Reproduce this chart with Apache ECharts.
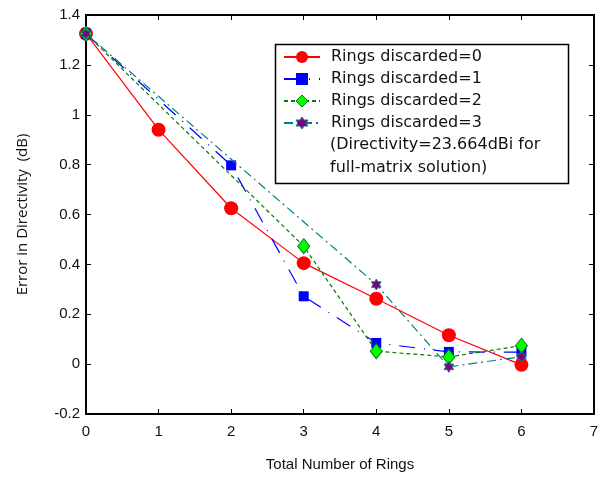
<!DOCTYPE html>
<html><head><meta charset="utf-8">
<script src="https://cdn.jsdelivr.net/npm/echarts@6/dist/echarts.min.js"></script>
<style>html,body{margin:0;padding:0;background:#fff}#c{width:613px;height:477px}</style>
</head><body><div id="c"></div>
<script>
const xRings = [0, 1, 2, 3, 4, 5, 6];
const seriesNames = ['Rings discarded=0', 'Rings discarded=1', 'Rings discarded=2', 'Rings discarded=3'];
const disc0 = [[0, 1.325], [1, 0.94], [2, 0.625], [3, 0.405], [4, 0.262], [5, 0.116], [6, -0.003]];
const disc1 = [[0, 1.325], [2, 0.797], [3, 0.272], [4, 0.085], [5, 0.049], [6, 0.048]];
const disc2 = [[0, 1.325], [3, 0.473], [4, 0.052], [5, 0.029], [6, 0.074]];
const disc3 = [[0, 1.325], [4, 0.319], [5, -0.011], [6, 0.03]];
const noteText = '(Directivity=23.664dBi for\nfull-matrix solution)';
const yMin = -0.2, yMax = 1.4, yStep = 0.2;
const xMin = 0, xMax = 7, xStep = 1;

const star = 'path://M0,-10 L2.887,-5 L8.66,-5 L5.77,0 L8.66,5 L2.887,5 L0,10 L-2.887,5 L-8.66,5 L-5.77,0 L-8.66,-5 L-2.887,-5 Z';
const styles = [
  {symbol: 'circle', size: 14, line: {color: '#ff0000', width: 1.2, type: 'solid'}, item: {color: '#ff0000', borderColor: '#ff0000', borderWidth: 0}},
  {symbol: 'rect', size: 10, line: {color: '#0000ff', width: 1.2, type: [16, 9, 1, 9]}, item: {color: '#0000ff', borderColor: '#0000ff', borderWidth: 0}},
  {symbol: 'diamond', size: [12, 15], line: {color: '#008000', width: 1.2, type: [4, 3]}, item: {color: '#00ff00', borderColor: '#008000', borderWidth: 1}},
  {symbol: star, size: 11, line: {color: '#008080', width: 1.2, type: [9, 4, 2, 4]}, item: {color: '#800080', borderColor: '#008080', borderWidth: 1}}
];
const allData = [disc0, disc1, disc2, disc3];
const chart = echarts.init(document.getElementById('c'));
const axisFont = {fontFamily: 'Liberation Sans', fontSize: 15, color: '#111'};
const axisBase = {
  axisLine: {show: true, onZero: false, lineStyle: {color: '#000', width: 2}},
  axisTick: {show: true, inside: true, length: 5, lineStyle: {color: '#000', width: 1}},
  splitLine: {show: false}
};
chart.setOption({
  animation: false,
  grid: {left: 86, right: 19, top: 15, bottom: 62},
  xAxis: [
    Object.assign({type: 'value', min: xMin, max: xMax, interval: xStep, position: 'bottom',
      axisLabel: Object.assign({margin: 10}, axisFont),
      name: 'Total Number of Rings', nameLocation: 'middle', nameGap: 43,
      nameTextStyle: {fontFamily: 'Liberation Sans', fontSize: 15, color: '#111'}}, axisBase),
    Object.assign({type: 'value', min: xMin, max: xMax, interval: xStep, position: 'top',
      axisLabel: {show: false}}, axisBase)
  ],
  yAxis: [
    Object.assign({type: 'value', min: yMin, max: yMax, interval: yStep, position: 'left',
      axisLabel: Object.assign({margin: 6}, axisFont),
      name: 'Error in Directivity  (dB)', nameLocation: 'middle', nameGap: 56,
      nameTextStyle: {fontFamily: 'Open Sans', fontSize: 15, color: '#111'}}, axisBase),
    Object.assign({type: 'value', min: yMin, max: yMax, interval: yStep, position: 'right',
      axisLabel: {show: false}}, axisBase)
  ],
  legend: {
    orient: 'vertical', left: 283, top: 49, padding: 0, itemGap: 6, itemWidth: 36, itemHeight: 15,
    textStyle: {fontFamily: 'DejaVu Sans', fontSize: 16, color: '#111', padding: [0, 0, 0, 6]},
    data: seriesNames.map((n, i) => ({name: n, itemStyle: Object.assign({}, styles[i].item)}))
  },
  graphic: [
    {type: 'rect', left: 273, top: 42, shape: {width: 293, height: 139},
      style: {fill: 'none', stroke: '#000', lineWidth: 1.5}, z: 10},
    {type: 'text', left: 330, top: 134,
      style: {text: noteText, fontFamily: 'DejaVu Sans', fontSize: 16, lineHeight: 22.5, fill: '#111'}, z: 10}
  ],
  series: seriesNames.map((n, i) => ({
    name: n, type: 'line', data: allData[i], symbol: styles[i].symbol, symbolSize: styles[i].size,
    symbolKeepAspect: true, lineStyle: styles[i].line, itemStyle: styles[i].item, z: 2 + i
  }))
});
</script></body></html>
